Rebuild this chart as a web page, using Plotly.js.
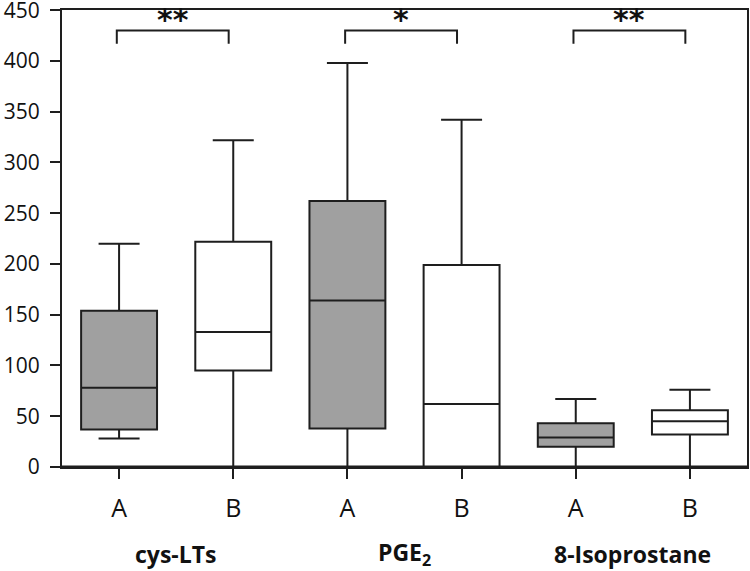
<!DOCTYPE html>
<html>
<head>
<meta charset="utf-8">
<script src="https://cdn.plot.ly/plotly-3.0.1.min.js"></script>
<style>html,body{margin:0;padding:0;background:#fff;}#chart{width:750px;height:571px;}</style>
</head>
<body>
<div id="chart"></div>
<script>
// Data
var markers = ['cys-LTs', 'PGE<sub>2</sub>', '8-Isoprostane'];
var groups = ['A', 'B'];
var significance = ['**', '*', '**'];

// group A (grey boxes)
var aLower  = [28, 0, 0];
var aQ1     = [37, 38, 20];
var aMedian = [78, 164, 29];
var aQ3     = [154, 262, 43];
var aUpper  = [220, 398, 67];

// group B (white boxes)
var bLower  = [0, 0, 0];
var bQ1     = [95, 0, 32];
var bMedian = [133, 62, 45];
var bQ3     = [222, 199, 56];
var bUpper  = [322, 342, 76];

var bracketTop = 430;
var bracketEnd = 417;
var starY = 441;

var posA = markers.map(function(m, i){ return 2*i; });
var posB = markers.map(function(m, i){ return 2*i + 1; });

var lineCol = '#1e1e1e';
var traceA = {
  type: 'box', x: posA, q1: aQ1, median: aMedian, q3: aQ3,
  lowerfence: aLower, upperfence: aUpper,
  width: 0.665, whiskerwidth: 0.54, boxpoints: false,
  fillcolor: '#a0a0a0', line: {color: lineCol, width: 2},
  hoverinfo: 'skip', showlegend: false
};
var traceB = {
  type: 'box', x: posB, q1: bQ1, median: bMedian, q3: bQ3,
  lowerfence: bLower, upperfence: bUpper,
  width: 0.665, whiskerwidth: 0.54, boxpoints: false,
  fillcolor: '#ffffff', line: {color: lineCol, width: 2},
  hoverinfo: 'skip', showlegend: false
};

var tickvals = [], ticktext = [];
markers.forEach(function(m, i){
  groups.forEach(function(g, j){ tickvals.push(2*i + j); ticktext.push(g); });
});

// base line drawn over the whisker caps that sit on zero
var shapes = [{
  type: 'line', xref: 'paper', yref: 'y', x0: 0, x1: 1, y0: 0, y1: 0,
  line: {color: lineCol, width: 3}, layer: 'above'
}];
var annotations = [];
markers.forEach(function(m, i){
  var x0 = posA[i] - 0.02, x1 = posB[i] - 0.04;
  shapes.push({
    type: 'path', xref: 'x', yref: 'y',
    path: 'M ' + x0 + ',' + bracketEnd + ' L ' + x0 + ',' + bracketTop +
          ' L ' + x1 + ',' + bracketTop + ' L ' + x1 + ',' + bracketEnd,
    line: {color: lineCol, width: 2}
  });
  annotations.push({
    x: (x0 + x1) / 2, y: starY, xref: 'x', yref: 'y',
    text: '<b>' + significance[i] + '</b>', showarrow: false, yanchor: 'middle',
    font: {family: 'DejaVu Sans', size: 30, color: '#111'}
  });
  annotations.push({
    x: (posA[i] + posB[i]) / 2, y: -0.19, xref: 'x', yref: 'paper',
    text: '<b>' + m + '</b>', showarrow: false, yanchor: 'middle',
    font: {family: 'Open Sans', size: 23, color: '#111'}
  });
});

var layout = {
  width: 750, height: 571,
  margin: {l: 62, r: 3, t: 10, b: 104},
  paper_bgcolor: '#fff', plot_bgcolor: '#fff',
  font: {family: 'Open Sans', color: '#111'},
  xaxis: {
    range: [-0.5, 5.5], tickvals: tickvals, ticktext: ticktext,
    showgrid: false, zeroline: false, showline: true, mirror: true,
    linecolor: lineCol, linewidth: 2,
    ticks: 'outside', ticklen: 10, tickwidth: 2, tickcolor: lineCol,
    ticklabelstandoff: 8,
    tickfont: {family: 'Open Sans', size: 25, color: '#111'}
  },
  yaxis: {
    range: [0, 450.2], tickvals: [0, 50, 100, 150, 200, 250, 300, 350, 400, 450],
    showgrid: false, zeroline: false, showline: true, mirror: true,
    linecolor: lineCol, linewidth: 2,
    ticks: 'outside', ticklen: 10, tickwidth: 2, tickcolor: lineCol,
    ticklabelstandoff: 6, ticklabeloverflow: 'allow',
    tickfont: {family: 'Open Sans', size: 21, color: '#111'}
  },
  shapes: shapes,
  annotations: annotations
};

Plotly.newPlot('chart', [traceA, traceB], layout, {displayModeBar: false, staticPlot: true});
</script>
</body>
</html>
